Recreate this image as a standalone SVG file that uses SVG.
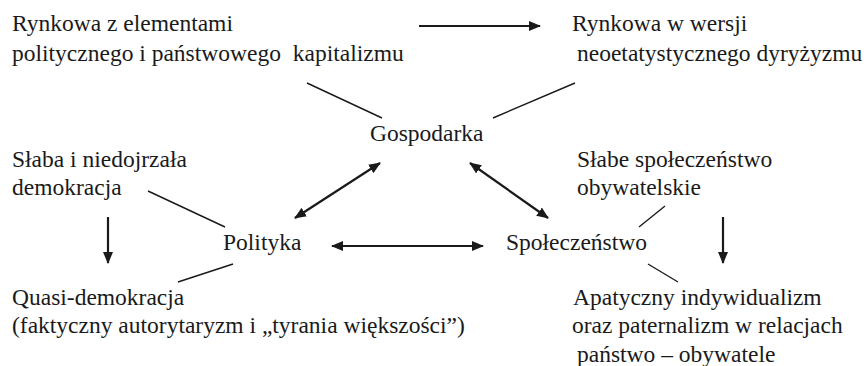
<svg xmlns="http://www.w3.org/2000/svg" width="868" height="366" viewBox="0 0 868 366">
<defs>
<style>
text{font-family:"Liberation Serif","Times New Roman",serif;font-size:23.5px;fill:#1a1a1a}
.ln{stroke:#1a1a1a;stroke-width:1.4;fill:none}
.ar{stroke:#1a1a1a;stroke-width:2.2;fill:none}
</style>
<marker id="ah" viewBox="0 0 12 10" refX="11" refY="5" markerWidth="12" markerHeight="10" markerUnits="userSpaceOnUse" orient="auto-start-reverse">
<path d="M0,0 L12,5 L0,10 Z" fill="#1a1a1a"/>
</marker>
</defs>
<rect width="868" height="366" fill="#fff"/>
<g id="n-rynkowa-kap"><text x="12" y="31">Rynkowa z elementami</text><text x="12" y="61">politycznego i państwowego <tspan dx="6">kapitalizmu</tspan></text></g>
<g id="n-rynkowa-neo"><text x="572" y="31">Rynkowa w wersji</text><text x="577" y="61">neoetatystycznego dyryżyzmu</text></g>
<g id="n-gospodarka"><text x="370" y="141">Gospodarka</text></g>
<g id="n-slaba-dem"><text x="12" y="167">Słaba i niedojrzała</text><text x="12" y="195">demokracja</text></g>
<g id="n-slabe-spol"><text x="577" y="167">Słabe społeczeństwo</text><text x="577" y="195">obywatelskie</text></g>
<g id="n-polityka"><text x="223" y="250">Polityka</text></g>
<g id="n-spoleczenstwo"><text x="506" y="250">Społeczeństwo</text></g>
<g id="n-quasi"><text x="12" y="305">Quasi-demokracja</text><text x="12" y="333">(faktyczny autorytaryzm i „tyrania większości”)</text></g>
<g id="n-apatyczny"><text x="573" y="305">Apatyczny indywidualizm</text><text x="572" y="333">oraz paternalizm w relacjach</text><text x="577" y="362">państwo – obywatele</text></g>
<g id="connectors">
<line class="ar" x1="419" y1="26" x2="540" y2="26" marker-end="url(#ah)"/>
<line class="ln" x1="307" y1="83" x2="382" y2="118"/>
<line class="ln" x1="575" y1="83" x2="493" y2="118"/>
<line class="ar" x1="380" y1="163" x2="295" y2="218" marker-start="url(#ah)" marker-end="url(#ah)"/>
<line class="ar" x1="470" y1="163" x2="548" y2="218" marker-start="url(#ah)" marker-end="url(#ah)"/>
<line class="ln" x1="148" y1="191" x2="225" y2="227"/>
<line class="ln" x1="665" y1="206" x2="639" y2="227"/>
<line class="ar" x1="332" y1="246" x2="483" y2="246" marker-start="url(#ah)" marker-end="url(#ah)"/>
<line class="ar" x1="108" y1="217" x2="108" y2="263" marker-end="url(#ah)"/>
<line class="ar" x1="723" y1="217" x2="723" y2="263" marker-end="url(#ah)"/>
<line class="ln" x1="233" y1="264" x2="178" y2="282"/>
<line class="ln" x1="648" y1="264" x2="678" y2="282"/>
</g>
</svg>
